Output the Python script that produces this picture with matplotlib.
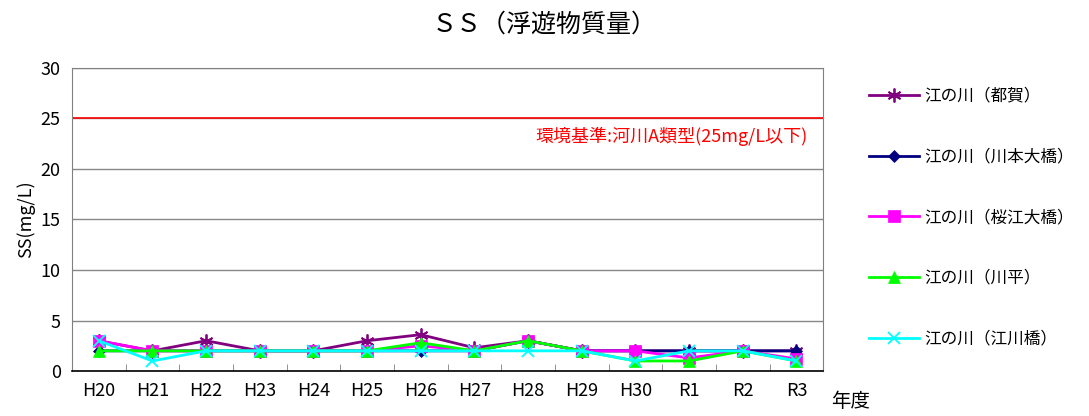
import matplotlib
matplotlib.use("Agg")
import matplotlib.pyplot as plt
import numpy as np

plt.rcParams['font.family'] = ['Noto Sans CJK JP', 'DejaVu Sans']

categories = ["H20", "H21", "H22", "H23", "H24", "H25", "H26", "H27", "H28", "H29", "H30", "R1", "R2", "R3"]
tsuga = [3, 2, 3, 2, 2, 3, 3.6, 2.3, 3, 2, 2, 2, 2, 2]
kawamoto = [2, 2, 2, 2, 2, 2, 2, 2, 3, 2, 2, 2, 2, 2]
sakurae = [3, 2, 2, 2, 2, 2, 2.5, 2, 3, 2, 2, 1.3, 2, 1.2]
kawahira = [2, 2, 2, 2, 2, 2, 2.8, 2, 3, 2, 1, 1, 2, 1]
gokawa = [3, 1, 2, 2, 2, 2, 2, 2, 2, 2, 1, 2, 2, 1]
standard = 25

series = [
    ("江の川（都賀）", tsuga, "#800080", (6, 2, 0), 10),
    ("江の川（川本大橋）", kawamoto, "#000080", "D", 6),
    ("江の川（桜江大橋）", sakurae, "#FF00FF", "s", 8),
    ("江の川（川平）", kawahira, "#00FF00", "^", 8),
    ("江の川（江川橋）", gokawa, "#00FFFF", "x", 9),
]

fig = plt.figure(figsize=(10.89, 4.16), dpi=100)
ax = fig.add_axes([0.066, 0.108, 0.690, 0.729])
x = np.arange(len(categories))
handles = []
for name, vals, col, mk, ms in series:
    thin = mk == "x" or isinstance(mk, tuple)
    h, = ax.plot(x, vals, color=col, marker=mk, markersize=ms, linewidth=2,
                 markeredgewidth=1.3 if thin else 0.5, label=name, zorder=3)
    handles.append(h)

ax.axhline(standard, color="red", linewidth=1.2, zorder=2)
ax.text(len(categories) - 0.8, standard - 0.8, "環境基準:河川A類型(25mg/L以下)", color="red",
        ha="right", va="top", fontsize=13)

ax.set_xlim(-0.5, len(categories) - 0.5)
ax.set_ylim(0, 30)
ax.set_yticks(range(0, 31, 5))
ax.set_xticks(x)
ax.set_xticklabels(categories, fontsize=13)
ax.set_xticks(np.arange(0.5, len(categories) - 0.5, 1), minor=True)
ax.tick_params(axis='x', which='major', length=0, pad=8)
ax.tick_params(axis='x', which='minor', direction='in', length=5, color='#808080')
ax.tick_params(axis='y', labelsize=13, length=0, pad=8)
ax.yaxis.grid(True, color="#888888", linewidth=1)
ax.set_axisbelow(True)
for s in ax.spines.values():
    s.set_color("#808080")
ax.spines['bottom'].set_color("black")
ax.spines['bottom'].set_linewidth(1.2)
ax.set_ylabel("SS(mg/L)", fontsize=13)
fig.text(0.763, 0.01, "年度", fontsize=14, ha="left", va="bottom")
fig.text(0.5, 0.91, "ＳＳ（浮遊物質量）", fontsize=18, ha="center", va="bottom")

fig.legend(handles=handles, loc="upper left", bbox_to_anchor=(0.792, 0.805), frameon=False,
           fontsize=12, labelspacing=2.62, handlelength=3.0, handletextpad=0.3, borderaxespad=0)

fig.savefig("out.png", dpi=100)
